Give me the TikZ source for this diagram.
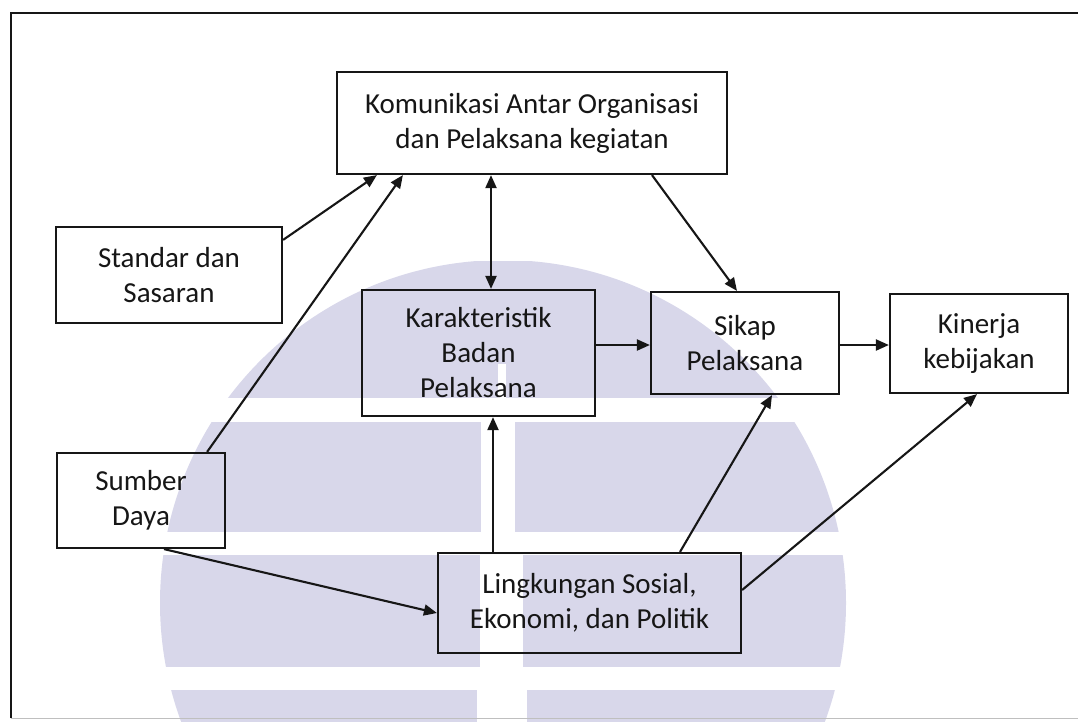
\documentclass[tikz,border=0pt]{standalone}
\usepackage{fontspec}
\setmainfont{Carlito}
\usetikzlibrary{arrows.meta}
\definecolor{wm}{RGB}{216,215,234}
\definecolor{ink}{RGB}{22,22,22}
\begin{document}
\begin{tikzpicture}[x=1pt,y=-1pt,
  blk/.style={draw=ink, line width=2.2pt, inner sep=0pt, align=center,
              text=ink, font=\fontsize{29}{35}\selectfont},
  con/.style={draw=ink, line width=2.1pt, -{Triangle[length=13pt,width=11pt]}},
  dcon/.style={draw=ink, line width=2.1pt,
               {Triangle[length=13pt,width=11pt]}-{Triangle[length=13pt,width=11pt]}}]
\useasboundingbox (0,0) rectangle (1078,721);

% faint logo in the background
\begin{scope}
  \clip (503,603) circle (343pt);
  \fill[wm] (140,261) rectangle (870,398);
  \fill[wm] (140,422) rectangle (481,532);
  \fill[wm] (515,422) rectangle (870,532);
  \fill[wm] (140,555) rectangle (480,667);
  \fill[wm] (523,555) rectangle (870,667);
  \fill[wm] (140,690) rectangle (477,725);
  \fill[wm] (527,690) rectangle (870,725);
\end{scope}
\fill[white] (498,364) rectangle (506,398);

% outer frame
\draw[ink, line width=2pt] (11,718) -- (11,13) -- (1078,13);
\draw[black!25, line width=1pt] (11,718) -- (1078,718);

% blocks
\node[blk, minimum width=390pt, minimum height=102pt] (kom) at (532,123)
  {Komunikasi Antar Organisasi\\dan Pelaksana kegiatan};
\node[blk, minimum width=226pt, minimum height=96pt] (std) at (169,275)
  {Standar dan\\Sasaran};
\node[blk, minimum width=233pt, minimum height=126pt] (kar) at (478.5,353)
  {Karakteristik\\Badan\\Pelaksana};
\node[blk, minimum width=188pt, minimum height=102pt] (sik) at (745,343)
  {Sikap\\Pelaksana};
\node[blk, minimum width=178pt, minimum height=99pt] (kin) at (979,343.5)
  {Kinerja\\kebijakan};
\node[blk, minimum width=168pt, minimum height=95pt] (sum) at (141,500.5)
  {Sumber\\Daya};
\node[blk, minimum width=303pt, minimum height=100pt] (lin) at (589.5,603)
  {Lingkungan Sosial,\\Ekonomi, dan Politik};

% connectors
\draw[con] ([yshift=-14pt]std.north east) -- ([xshift=41pt]kom.south west);
\draw[con] ([xshift=-19pt]sum.north east) -- ([xshift=67pt]kom.south west);
\draw[dcon] ([xshift=12.5pt]kar.north |- kom.south) -- ([xshift=12.5pt]kar.north);
\draw[con] ([xshift=120pt]kom.south) -- ([xshift=-8pt]sik.north);
\draw[con] ([yshift=8pt]kar.east) -- ([yshift=8pt]kar.east -| sik.west);
\draw[con] ([yshift=-2pt]sik.east) -- ([yshift=-2pt]sik.east -| kin.west);
\draw[con] ([xshift=14.5pt]kar.south |- lin.north) -- ([xshift=14.5pt]kar.south);
\draw[con] ([xshift=90.5pt]lin.north) -- ([xshift=27pt]sik.south);
\draw[con] ([yshift=13pt]lin.east) -- ([xshift=-2pt]kin.south);
\draw[con] ([xshift=23pt]sum.south) -- ([yshift=-10pt]lin.west);
\end{tikzpicture}
\end{document}
